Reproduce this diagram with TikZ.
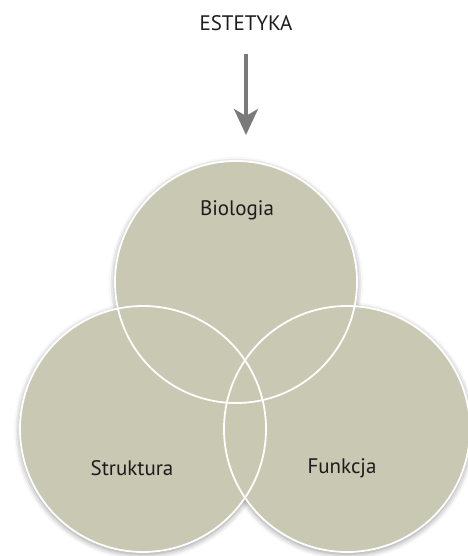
\documentclass[tikz,border=0pt]{standalone}
\usepackage{fontspec}
\setmainfont{PT Sans}
\usetikzlibrary{arrows.meta,backgrounds,shadows.blur}
\definecolor{oliwka}{RGB}{201,200,179}
\definecolor{tekst}{RGB}{30,27,28}
\definecolor{szary}{RGB}{122,122,122}
\tikzset{
  kolo/.style={circle,fill=oliwka,inner sep=0pt,outer sep=0pt},
  obrys/.style={draw=white,line width=1.8bp},
  cien/.style={blur shadow={shadow xshift=0bp,shadow yshift=-2bp,shadow blur radius=6bp,shadow opacity=45}},
  etykieta/.style={font=\fontsize{21bp}{24bp}\selectfont,text=tekst,inner sep=2bp},
  strzalka/.style={draw=szary,line width=4bp,-{Stealth[width=24bp,length=26bp,inset=7bp]}}
}
\begin{document}
\begin{tikzpicture}[x=1bp,y=-1bp]
\useasboundingbox (0,0) rectangle (468,556);
\node[etykieta] (tytul) at (246,23) {ESTETYKA};
\foreach \nazwa/\x/\y/\r in {struk/143/429/123, funk/347/429/123, bio/236/282/121}
  \node[kolo,minimum size=2*\r bp] (\nazwa) at (\x,\y) {};
\begin{scope}[on background layer]
\foreach \nazwa/\r in {struk/123, funk/123, bio/121}
  \path[cien] (\nazwa.center) circle[radius=\r];
\end{scope}
\foreach \nazwa/\r in {struk/123, funk/123, bio/121}
  \draw[obrys] (\nazwa.center) circle[radius=\r];
\node[etykieta] (biologia) at (237,210) {Biologia};
\node[etykieta] (struktura) at (132,468) {Struktura};
\node[etykieta] (funkcja) at (342,468) {Funkcja};
\draw[strzalka,shorten <=21bp,shorten >=26bp] (tytul.south) -- (tytul.south |- bio.north);
\end{tikzpicture}
\end{document}
